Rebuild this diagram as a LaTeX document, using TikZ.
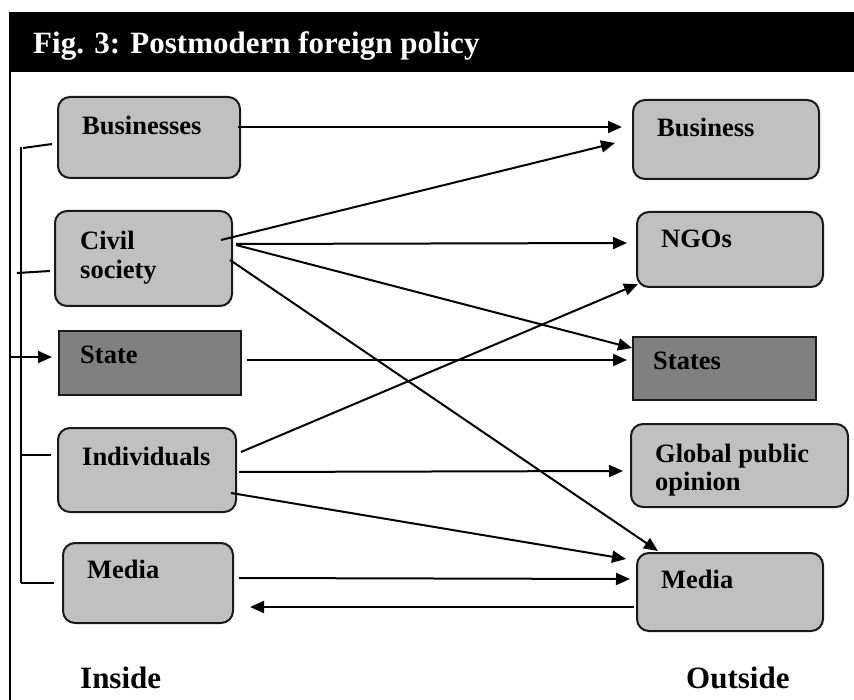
\documentclass[tikz,border=0pt]{standalone}
\usepackage{fontspec}
\setmainfont{Liberation Serif}
\usetikzlibrary{arrows.meta,calc}
\definecolor{boxlight}{HTML}{C0C0C0}
\definecolor{boxdark}{HTML}{808080}
\begin{document}
\begin{tikzpicture}[x=1pt,y=-1pt,
  rbox/.style={draw=black!90, line width=2pt, fill=boxlight, rounded corners=12pt, inner sep=0pt},
  dbox/.style={draw=black!90, line width=2pt, fill=boxdark, inner sep=0pt},
  boxtext/.style={anchor=base west, inner sep=0pt, font=\fontsize{26.5}{29}\selectfont\bfseries},
  bigtext/.style={anchor=base west, inner sep=0pt, font=\fontsize{31}{36}\selectfont\bfseries},
  conn/.style={line width=2pt},
  arr/.style={line width=2pt, -{Triangle[length=14pt,width=12pt]}}]
\useasboundingbox (0,0) rectangle (854,700);
% frame and title bar
\node[fill=black, anchor=north west, minimum width=850pt, minimum height=60pt, inner sep=0pt] (bar) at (10,12) {};
\node[bigtext, text=white] (title) at (33,54) {Fig. 3: Postmodern foreign policy};
\draw[line width=1.5pt] (bar.north west) -- ++(0,700);
% left boxes
\node[rbox, minimum width=182pt, minimum height=81pt] (bus) at (149,137.5) {};
\node[rbox, minimum width=177pt, minimum height=95pt] (cs) at (143.5,258.5) {};
\node[dbox, minimum width=182pt, minimum height=64pt] (state) at (150,363) {};
\node[rbox, minimum width=178pt, minimum height=84pt] (ind) at (147,470) {};
\node[rbox, minimum width=170pt, minimum height=80pt] (medL) at (148,583) {};
% right boxes
\node[rbox, minimum width=186pt, minimum height=79pt] (biz) at (726,139.5) {};
\node[rbox, minimum width=186pt, minimum height=75pt] (ngo) at (730,249.5) {};
\node[dbox, minimum width=183pt, minimum height=63pt] (sts) at (724.5,368.5) {};
\node[rbox, minimum width=217pt, minimum height=83pt] (gpo) at (739.5,465.5) {};
\node[rbox, minimum width=186pt, minimum height=78pt] (medR) at (730,592) {};
% texts
\node[boxtext] (tbus) at (82,135) {Businesses};
\node[boxtext] (tcs1) at (80,250) {Civil};
\node[boxtext] (tcs2) at (80,279) {society};
\node[boxtext] (tstate) at (80,364) {State};
\node[boxtext] (tind) at (82,465) {Individuals};
\node[boxtext] (tmedL) at (87,578) {Media};
\node[boxtext] (tbiz) at (657,137) {Business};
\node[boxtext] (tngo) at (661,248) {NGOs};
\node[boxtext] (tsts) at (653,370) {States};
\node[boxtext] (tgpo1) at (655,462) {Global public};
\node[boxtext] (tgpo2) at (655,490) {opinion};
\node[boxtext] (tmedR) at (661,588) {Media};
\node[bigtext] (inside) at (80,688) {Inside};
\node[bigtext] (outside) at (686,688) {Outside};
% left bracket
\coordinate (brTop) at ($(bus.west)+(-36,9.5)$);
\coordinate (brBot) at ($(medL.west)+(-41,0)$);
\draw[conn] (brTop) -- (brBot);
\draw[conn] ($(bus.west)+(-34,10.5)$) -- ($(bus.west)+(-5,6.5)$);
\draw[conn] ($(cs.west)+(-37,14.5)$) -- ($(cs.west)+(-4,12.5)$);
\draw[arr] ($(state.west)+(-48,-6)$) -- ($(state.west)+(-6,-6)$);
\draw[conn] ($(ind.west)+(-37,-15)$) -- ($(ind.west)+(-6,-15)$);
\draw[conn] ($(medL.west)+(-41,0)$) -- ($(medL.west)+(-8,0)$);
% connectors
\draw[arr] ($(bus.east)+(-3,-10.5)$) -- ($(biz.west)+(-10,-12.5)$);
\draw[arr] ($(cs.east)+(-12,-18.5)$) -- ($(biz.west)+(-17,3.5)$);
\draw[arr] ($(cs.east)+(3,-14.5)$) -- ($(ngo.west)+(-9,-6.5)$);
\draw[arr] ($(cs.east)+(3,-13.5)$) -- ($(sts.west)+(0,-20.5)$);
\draw[arr] ($(cs.east)+(-3,1.5)$) -- ($(medR.north)+(-72,-1)$);
\draw[arr] ($(state.east)+(5,-3)$) -- ($(sts.west)+(-5,-8.5)$);
\draw[arr] ($(ind.east)+(4,-18)$) -- ($(ngo.south west)+(2,-4)$);
\draw[arr] ($(ind.east)+(2,2)$) -- ($(gpo.west)+(-7,5.5)$);
\draw[arr] ($(ind.east)+(-6,23)$) -- ($(medR.west)+(-10,-33)$);
\draw[arr] ($(medL.east)+(5,-5)$) -- ($(medR.west)+(-6,-13)$);
\draw[arr] ($(medR.west)+(-2,15)$) -- ($(medL.east)+(16,24)$);
\end{tikzpicture}
\end{document}
